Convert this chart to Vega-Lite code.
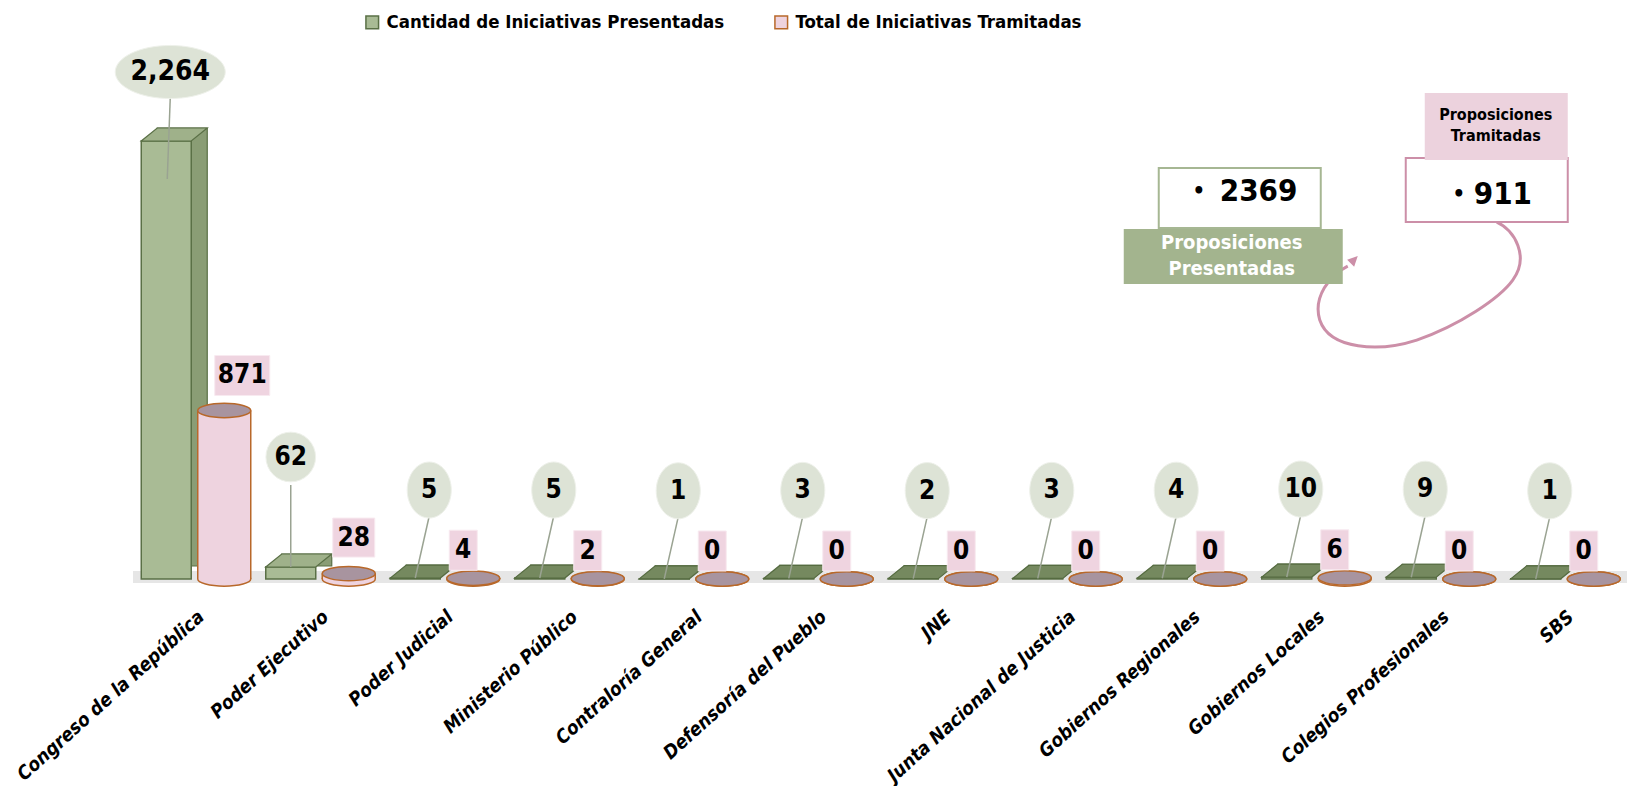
{
  "$schema": "https://vega.github.io/schema/vega-lite/v6.json",
  "width": 1494,
  "height": 503,
  "autosize": {"type": "none"},
  "padding": {"left": 133, "top": 76, "right": 1, "bottom": 207},
  "background": "white",
  "config": {
    "view": {"stroke": null},
    "font": "DejaVu Sans Condensed, Liberation Sans",
    "axisX": {
      "labelFont": "DejaVu Sans Condensed, Liberation Sans",
      "labelFontWeight": "bold",
      "labelFontStyle": "italic",
      "labelFontSize": 19,
      "labelColor": "#000000",
      "labelAngle": -42,
      "labelPadding": 28,
      "labelLimit": 0,
      "labelOverlap": false,
      "domain": false,
      "ticks": false,
      "grid": false
    }
  },
  "datasets": {
    "iniciativas": [
      {"entidad": "Congreso de la República", "serie": "Cantidad de Iniciativas Presentadas", "valor": 2264},
      {"entidad": "Congreso de la República", "serie": "Total de Iniciativas Tramitadas", "valor": 871},
      {"entidad": "Poder Ejecutivo", "serie": "Cantidad de Iniciativas Presentadas", "valor": 62},
      {"entidad": "Poder Ejecutivo", "serie": "Total de Iniciativas Tramitadas", "valor": 28},
      {"entidad": "Poder Judicial", "serie": "Cantidad de Iniciativas Presentadas", "valor": 5},
      {"entidad": "Poder Judicial", "serie": "Total de Iniciativas Tramitadas", "valor": 4},
      {"entidad": "Ministerio Público", "serie": "Cantidad de Iniciativas Presentadas", "valor": 5},
      {"entidad": "Ministerio Público", "serie": "Total de Iniciativas Tramitadas", "valor": 2},
      {"entidad": "Contraloría General", "serie": "Cantidad de Iniciativas Presentadas", "valor": 1},
      {"entidad": "Contraloría General", "serie": "Total de Iniciativas Tramitadas", "valor": 0},
      {"entidad": "Defensoría del Pueblo", "serie": "Cantidad de Iniciativas Presentadas", "valor": 3},
      {"entidad": "Defensoría del Pueblo", "serie": "Total de Iniciativas Tramitadas", "valor": 0},
      {"entidad": "JNE", "serie": "Cantidad de Iniciativas Presentadas", "valor": 2},
      {"entidad": "JNE", "serie": "Total de Iniciativas Tramitadas", "valor": 0},
      {"entidad": "Junta Nacional de Justicia", "serie": "Cantidad de Iniciativas Presentadas", "valor": 3},
      {"entidad": "Junta Nacional de Justicia", "serie": "Total de Iniciativas Tramitadas", "valor": 0},
      {"entidad": "Gobiernos Regionales", "serie": "Cantidad de Iniciativas Presentadas", "valor": 4},
      {"entidad": "Gobiernos Regionales", "serie": "Total de Iniciativas Tramitadas", "valor": 0},
      {"entidad": "Gobiernos Locales", "serie": "Cantidad de Iniciativas Presentadas", "valor": 10},
      {"entidad": "Gobiernos Locales", "serie": "Total de Iniciativas Tramitadas", "valor": 6},
      {"entidad": "Colegios Profesionales", "serie": "Cantidad de Iniciativas Presentadas", "valor": 9},
      {"entidad": "Colegios Profesionales", "serie": "Total de Iniciativas Tramitadas", "valor": 0},
      {"entidad": "SBS", "serie": "Cantidad de Iniciativas Presentadas", "valor": 1},
      {"entidad": "SBS", "serie": "Total de Iniciativas Tramitadas", "valor": 0}
    ],
    "resumen": [
      {"tipo": "Proposiciones Presentadas", "total": 2369},
      {"tipo": "Proposiciones Tramitadas", "total": 911}
    ]
  },
  "layer": [
    {
      "data": {"values": [{}]},
      "mark": {"type": "rule", "stroke": "#e6e6e6", "strokeWidth": 12, "yOffset": -2},
      "encoding": {"y": {"datum": 0, "type": "quantitative", "scale": {"domain": [0, 2600]}, "axis": null}}
    },
    {
      "data": {"name": "iniciativas"},
      "encoding": {
        "x": {
          "field": "entidad",
          "type": "nominal",
          "sort": null,
          "scale": {
            "domain": ["Congreso de la República", "Poder Ejecutivo", "Poder Judicial", "Ministerio Público", "Contraloría General", "Defensoría del Pueblo", "JNE", "Junta Nacional de Justicia", "Gobiernos Regionales", "Gobiernos Locales", "Colegios Profesionales", "SBS"],
            "paddingInner": 0.125,
            "paddingOuter": 0.0625
          },
          "axis": {"title": null}
        },
        "y": {"field": "valor", "type": "quantitative", "scale": {"domain": [0, 2600]}, "axis": null}
      },
      "layer": [
        {
          "transform": [{"filter": "datum.serie === 'Cantidad de Iniciativas Presentadas'"}],
          "mark": {"type": "bar", "width": 50, "xOffset": -13, "yOffset": -13, "y2Offset": -13, "fill": "#8a9d75", "stroke": "#5a7046", "strokeWidth": 1.2}
        },
        {
          "transform": [{"filter": "datum.serie === 'Cantidad de Iniciativas Presentadas'"}],
          "mark": {"type": "bar", "width": 50, "xOffset": -29, "strokeWidth": 1.5},
          "encoding": {
            "fill": {
              "field": "serie",
              "type": "nominal",
              "scale": {"domain": ["Cantidad de Iniciativas Presentadas", "Total de Iniciativas Tramitadas"], "range": ["#a9bb95", "#eed3df"]},
              "legend": {"title": null, "orient": "none", "legendX": 230, "legendY": -63, "direction": "horizontal", "symbolType": "square", "symbolSize": 160, "symbolStrokeWidth": 1.5, "labelFont": "DejaVu Sans Condensed, Liberation Sans", "labelFontWeight": "bold", "labelFontSize": 18.5, "labelColor": "#000000", "labelOffset": 5, "columnPadding": 46, "labelLimit": 0}
            },
            "stroke": {
              "field": "serie",
              "type": "nominal",
              "scale": {"domain": ["Cantidad de Iniciativas Presentadas", "Total de Iniciativas Tramitadas"], "range": ["#5a7046", "#b8682a"]},
              "legend": {"title": null, "orient": "none", "legendX": 230, "legendY": -63, "direction": "horizontal", "symbolType": "square", "symbolSize": 160, "symbolStrokeWidth": 1.5, "labelFont": "DejaVu Sans Condensed, Liberation Sans", "labelFontWeight": "bold", "labelFontSize": 18.5, "labelColor": "#000000", "labelOffset": 5, "columnPadding": 46, "labelLimit": 0}
            }
          }
        },
        {
          "transform": [{"filter": "datum.serie === 'Cantidad de Iniciativas Presentadas' && datum.valor >= 50"}],
          "mark": {"type": "point", "shape": "M -1 0 L 1 0 L 1.64 -0.52 L -0.36 -0.52 Z", "size": 2500, "filled": true, "fill": "#9fb18a", "stroke": "#5a7046", "strokeWidth": 1.2, "opacity": 1, "xOffset": -29}
        },
        {
          "transform": [{"filter": "datum.serie === 'Cantidad de Iniciativas Presentadas' && datum.valor < 50"}],
          "mark": {"type": "point", "shape": "M -1 0 L 1 0 L 1.64 -0.52 L -0.36 -0.52 Z", "size": 2500, "filled": true, "fill": "#75895f", "stroke": "#556b40", "strokeWidth": 1.2, "opacity": 1, "xOffset": -29}
        },
        {
          "transform": [{"filter": "datum.serie === 'Total de Iniciativas Tramitadas'"}],
          "mark": {"type": "point", "shape": "M -1 0 C -1 -0.149 -0.552 -0.27 0 -0.27 C 0.552 -0.27 1 -0.149 1 0 C 1 0.149 0.552 0.27 0 0.27 C -0.552 0.27 -1 0.149 -1 0 Z", "size": 2809, "filled": true, "fill": "#eed3df", "stroke": "#b8682a", "strokeWidth": 1.5, "opacity": 1, "xOffset": 29},
          "encoding": {"y": {"datum": 0, "type": "quantitative"}}
        },
        {
          "transform": [{"filter": "datum.serie === 'Total de Iniciativas Tramitadas'"}],
          "mark": {"type": "bar", "width": 53, "xOffset": 29, "fill": "#eed3df", "strokeWidth": 0}
        },
        {
          "transform": [{"filter": "datum.serie === 'Total de Iniciativas Tramitadas'"}],
          "mark": {"type": "rule", "xOffset": 2.5, "stroke": "#b8682a", "strokeWidth": 1.5},
          "encoding": {"y2": {"datum": 0}}
        },
        {
          "transform": [{"filter": "datum.serie === 'Total de Iniciativas Tramitadas'"}],
          "mark": {"type": "rule", "xOffset": 55.5, "stroke": "#b8682a", "strokeWidth": 1.5},
          "encoding": {"y2": {"datum": 0}}
        },
        {
          "transform": [{"filter": "datum.serie === 'Total de Iniciativas Tramitadas'"}],
          "mark": {"type": "point", "shape": "M -1 0 C -1 -0.149 -0.552 -0.27 0 -0.27 C 0.552 -0.27 1 -0.149 1 0 C 1 0.149 0.552 0.27 0 0.27 C -0.552 0.27 -1 0.149 -1 0 Z", "size": 2809, "filled": true, "fill": "#a8949f", "stroke": "#b8682a", "strokeWidth": 1.5, "opacity": 1, "xOffset": 29}
        },
        {
          "transform": [{"filter": "datum.serie === 'Cantidad de Iniciativas Presentadas' && datum.valor < 50"}],
          "mark": {"type": "rule", "xOffset": -29, "x2Offset": -15, "y2Offset": -62, "stroke": "#9aa392", "strokeWidth": 1.5},
          "encoding": {"x2": {"field": "entidad"}, "y2": {"field": "valor"}}
        },
        {
          "transform": [{"filter": "datum.serie === 'Cantidad de Iniciativas Presentadas' && datum.valor < 50"}],
          "mark": {"type": "point", "shape": "M -0.786 0 C -0.786 -0.552 -0.434 -1 0 -1 C 0.434 -1 0.786 -0.552 0.786 0 C 0.786 0.552 0.434 1 0 1 C -0.434 1 -0.786 0.552 -0.786 0 Z", "size": 3136, "filled": true, "fill": "#dde3d6", "stroke": "#eef1ea", "strokeWidth": 1, "opacity": 1, "xOffset": -15, "yOffset": -88}
        },
        {
          "transform": [{"filter": "datum.serie === 'Cantidad de Iniciativas Presentadas' && datum.valor < 50"}],
          "mark": {"type": "text", "fontSize": 26, "fontWeight": "bold", "color": "#000000", "xOffset": -15, "yOffset": -88, "baseline": "middle", "align": "center"},
          "encoding": {"text": {"field": "valor", "type": "quantitative", "format": ","}}
        },
        {
          "transform": [{"filter": "datum.serie === 'Cantidad de Iniciativas Presentadas' && datum.valor >= 50 && datum.valor < 1000"}],
          "mark": {"type": "rule", "xOffset": -29, "x2Offset": -29, "y2Offset": -82, "stroke": "#9aa392", "strokeWidth": 1.5},
          "encoding": {"x2": {"field": "entidad"}, "y2": {"field": "valor"}}
        },
        {
          "transform": [{"filter": "datum.serie === 'Cantidad de Iniciativas Presentadas' && datum.valor >= 50 && datum.valor < 1000"}],
          "mark": {"type": "point", "shape": "circle", "size": 2463, "filled": true, "fill": "#dde3d6", "stroke": "#eef1ea", "strokeWidth": 1, "opacity": 1, "xOffset": -29, "yOffset": -110}
        },
        {
          "transform": [{"filter": "datum.serie === 'Cantidad de Iniciativas Presentadas' && datum.valor >= 50 && datum.valor < 1000"}],
          "mark": {"type": "text", "fontSize": 26, "fontWeight": "bold", "color": "#000000", "xOffset": -29, "yOffset": -110, "baseline": "middle", "align": "center"},
          "encoding": {"text": {"field": "valor", "type": "quantitative", "format": ","}}
        },
        {
          "transform": [{"filter": "datum.serie === 'Cantidad de Iniciativas Presentadas' && datum.valor >= 1000"}],
          "mark": {"type": "rule", "xOffset": -28, "yOffset": 38, "x2Offset": -25, "y2Offset": -43, "stroke": "#9aa392", "strokeWidth": 1.5},
          "encoding": {"x2": {"field": "entidad"}, "y2": {"field": "valor"}}
        },
        {
          "transform": [{"filter": "datum.serie === 'Cantidad de Iniciativas Presentadas' && datum.valor >= 1000"}],
          "mark": {"type": "point", "shape": "M -1 0 C -1 -0.266 -0.552 -0.482 0 -0.482 C 0.552 -0.482 1 -0.266 1 0 C 1 0.266 0.552 0.482 0 0.482 C -0.552 0.482 -1 0.266 -1 0 Z", "size": 12100, "filled": true, "fill": "#dde3d6", "stroke": "#eef1ea", "strokeWidth": 1, "opacity": 1, "xOffset": -25, "yOffset": -69}
        },
        {
          "transform": [{"filter": "datum.serie === 'Cantidad de Iniciativas Presentadas' && datum.valor >= 1000"}],
          "mark": {"type": "text", "fontSize": 28, "fontWeight": "bold", "color": "#000000", "xOffset": -25, "yOffset": -69, "baseline": "middle", "align": "center"},
          "encoding": {"text": {"field": "valor", "type": "quantitative", "format": ","}}
        },
        {
          "transform": [{"filter": "datum.serie === 'Total de Iniciativas Tramitadas' && datum.valor >= 100"}],
          "mark": {"type": "point", "shape": "M -1 -0.727 L 1 -0.727 L 1 0.727 L -1 0.727 Z", "size": 3025, "filled": true, "fill": "#efd4e0", "stroke": "#f8eaf0", "strokeWidth": 1, "opacity": 1, "xOffset": 47, "yOffset": -35}
        },
        {
          "transform": [{"filter": "datum.serie === 'Total de Iniciativas Tramitadas' && datum.valor >= 100"}],
          "mark": {"type": "text", "fontSize": 26, "fontWeight": "bold", "color": "#000000", "xOffset": 47, "yOffset": -35, "baseline": "middle", "align": "center"},
          "encoding": {"text": {"field": "valor", "type": "quantitative", "format": ","}}
        },
        {
          "transform": [{"filter": "datum.serie === 'Total de Iniciativas Tramitadas' && datum.valor >= 10 && datum.valor < 100"}],
          "mark": {"type": "point", "shape": "M -1 -0.93 L 1 -0.93 L 1 0.93 L -1 0.93 Z", "size": 1764, "filled": true, "fill": "#efd4e0", "stroke": "#f8eaf0", "strokeWidth": 1, "opacity": 1, "xOffset": 34, "yOffset": -36}
        },
        {
          "transform": [{"filter": "datum.serie === 'Total de Iniciativas Tramitadas' && datum.valor >= 10 && datum.valor < 100"}],
          "mark": {"type": "text", "fontSize": 26, "fontWeight": "bold", "color": "#000000", "xOffset": 34, "yOffset": -36, "baseline": "middle", "align": "center"},
          "encoding": {"text": {"field": "valor", "type": "quantitative", "format": ","}}
        },
        {
          "transform": [{"filter": "datum.serie === 'Total de Iniciativas Tramitadas' && datum.valor < 10"}],
          "mark": {"type": "point", "shape": "M -1 -1.43 L 1 -1.43 L 1 1.43 L -1 1.43 Z", "size": 784, "filled": true, "fill": "#efd4e0", "stroke": "#f8eaf0", "strokeWidth": 1, "opacity": 1, "xOffset": 19, "yOffset": -28}
        },
        {
          "transform": [{"filter": "datum.serie === 'Total de Iniciativas Tramitadas' && datum.valor < 10"}],
          "mark": {"type": "text", "fontSize": 26, "fontWeight": "bold", "color": "#000000", "xOffset": 19, "yOffset": -28, "baseline": "middle", "align": "center"},
          "encoding": {"text": {"field": "valor", "type": "quantitative", "format": ","}}
        }
      ]
    },
    {
      "data": {"name": "resumen"},
      "transform": [{"filter": "datum.tipo === 'Proposiciones Presentadas'"}],
      "mark": {"type": "point", "shape": "M -1 -0.37 L 1 -0.37 L 1 0.37 L -1 0.37 Z", "size": 26244, "filled": true, "fill": "#ffffff", "stroke": "#a6b793", "strokeWidth": 2, "opacity": 1, "xOffset": -76, "yOffset": 6},
      "encoding": {"x": {"datum": "Gobiernos Locales", "type": "nominal"}, "y": {"datum": 2000, "type": "quantitative"}}
    },
    {
      "data": {"name": "resumen"},
      "transform": [{"filter": "datum.tipo === 'Proposiciones Tramitadas'"}],
      "mark": {"type": "point", "shape": "M 0.77 -0.63 C 0.95 -0.55 1.1 -0.28 0.93 -0.05 C 0.8 0.13 0.4 0.4 -0.03 0.55 C -0.4 0.67 -0.9 0.65 -1 0.35 C -1.07 0.12 -0.9 -0.1 -0.72 -0.19", "size": 40000, "filled": false, "stroke": "#cc8fa8", "strokeWidth": 3, "opacity": 1, "xOffset": 104, "yOffset": 93},
      "encoding": {"x": {"datum": "Gobiernos Locales", "type": "nominal"}, "y": {"datum": 2000, "type": "quantitative"}}
    },
    {
      "data": {"name": "resumen"},
      "transform": [{"filter": "datum.tipo === 'Proposiciones Tramitadas'"}],
      "mark": {"type": "point", "shape": "M -0.62 -0.29 L -0.726 -0.254 L -0.656 -0.184 Z", "size": 40000, "filled": true, "fill": "#cc8fa8", "strokeWidth": 0, "opacity": 1, "xOffset": 104, "yOffset": 93},
      "encoding": {"x": {"datum": "Gobiernos Locales", "type": "nominal"}, "y": {"datum": 2000, "type": "quantitative"}}
    },
    {
      "data": {"name": "resumen"},
      "transform": [{"filter": "datum.tipo === 'Proposiciones Presentadas'"}],
      "mark": {"type": "point", "shape": "M -1 -0.251 L 1 -0.251 L 1 0.251 L -1 0.251 Z", "size": 47961, "filled": true, "fill": "#a3b48e", "strokeWidth": 0, "opacity": 1, "xOffset": -82.5, "yOffset": 64.5},
      "encoding": {"x": {"datum": "Gobiernos Locales", "type": "nominal"}, "y": {"datum": 2000, "type": "quantitative"}}
    },
    {
      "data": {"name": "resumen"},
      "transform": [{"filter": "datum.tipo === 'Proposiciones Presentadas'"}],
      "mark": {"type": "text", "fontSize": 20, "fontWeight": "bold", "color": "#ffffff", "lineBreak": " ", "lineHeight": 26, "align": "center", "baseline": "middle", "xOffset": -84, "yOffset": 51},
      "encoding": {"x": {"datum": "Gobiernos Locales", "type": "nominal"}, "y": {"datum": 2000, "type": "quantitative"}, "text": {"field": "tipo"}}
    },
    {
      "data": {"name": "resumen"},
      "transform": [{"filter": "datum.tipo === 'Proposiciones Presentadas'"}],
      "mark": {"type": "text", "fontSize": 22, "fontWeight": "bold", "color": "#000000", "align": "center", "baseline": "middle", "xOffset": -117, "yOffset": -1, "text": "•"},
      "encoding": {"x": {"datum": "Gobiernos Locales", "type": "nominal"}, "y": {"datum": 2000, "type": "quantitative"}}
    },
    {
      "data": {"name": "resumen"},
      "transform": [{"filter": "datum.tipo === 'Proposiciones Presentadas'"}],
      "mark": {"type": "text", "fontSize": 31, "fontWeight": "bold", "color": "#000000", "align": "left", "baseline": "middle", "xOffset": -96, "yOffset": 0},
      "encoding": {"x": {"datum": "Gobiernos Locales", "type": "nominal"}, "y": {"datum": 2000, "type": "quantitative"}, "text": {"field": "total", "type": "quantitative", "format": "d"}}
    },
    {
      "data": {"name": "resumen"},
      "transform": [{"filter": "datum.tipo === 'Proposiciones Tramitadas'"}],
      "mark": {"type": "point", "shape": "M -1 -0.395 L 1 -0.395 L 1 0.395 L -1 0.395 Z", "size": 26244, "filled": true, "fill": "#ffffff", "stroke": "#cc8fa8", "strokeWidth": 2, "opacity": 1, "xOffset": 171, "yOffset": -2},
      "encoding": {"x": {"datum": "Gobiernos Locales", "type": "nominal"}, "y": {"datum": 2000, "type": "quantitative"}}
    },
    {
      "data": {"name": "resumen"},
      "transform": [{"filter": "datum.tipo === 'Proposiciones Tramitadas'"}],
      "mark": {"type": "point", "shape": "M -1 -0.469 L 1 -0.469 L 1 0.469 L -1 0.469 Z", "size": 20449, "filled": true, "fill": "#ecd2dd", "strokeWidth": 0, "opacity": 1, "xOffset": 180.5, "yOffset": -65.5},
      "encoding": {"x": {"datum": "Gobiernos Locales", "type": "nominal"}, "y": {"datum": 2000, "type": "quantitative"}}
    },
    {
      "data": {"name": "resumen"},
      "transform": [{"filter": "datum.tipo === 'Proposiciones Tramitadas'"}],
      "mark": {"type": "text", "fontSize": 16, "fontWeight": "bold", "color": "#000000", "lineBreak": " ", "lineHeight": 21, "align": "center", "baseline": "middle", "xOffset": 180, "yOffset": -77},
      "encoding": {"x": {"datum": "Gobiernos Locales", "type": "nominal"}, "y": {"datum": 2000, "type": "quantitative"}, "text": {"field": "tipo"}}
    },
    {
      "data": {"name": "resumen"},
      "transform": [{"filter": "datum.tipo === 'Proposiciones Tramitadas'"}],
      "mark": {"type": "text", "fontSize": 22, "fontWeight": "bold", "color": "#000000", "align": "center", "baseline": "middle", "xOffset": 143, "yOffset": 2, "text": "•"},
      "encoding": {"x": {"datum": "Gobiernos Locales", "type": "nominal"}, "y": {"datum": 2000, "type": "quantitative"}}
    },
    {
      "data": {"name": "resumen"},
      "transform": [{"filter": "datum.tipo === 'Proposiciones Tramitadas'"}],
      "mark": {"type": "text", "fontSize": 31, "fontWeight": "bold", "color": "#000000", "align": "left", "baseline": "middle", "xOffset": 158, "yOffset": 3},
      "encoding": {"x": {"datum": "Gobiernos Locales", "type": "nominal"}, "y": {"datum": 2000, "type": "quantitative"}, "text": {"field": "total", "type": "quantitative", "format": "d"}}
    }
  ]
}
